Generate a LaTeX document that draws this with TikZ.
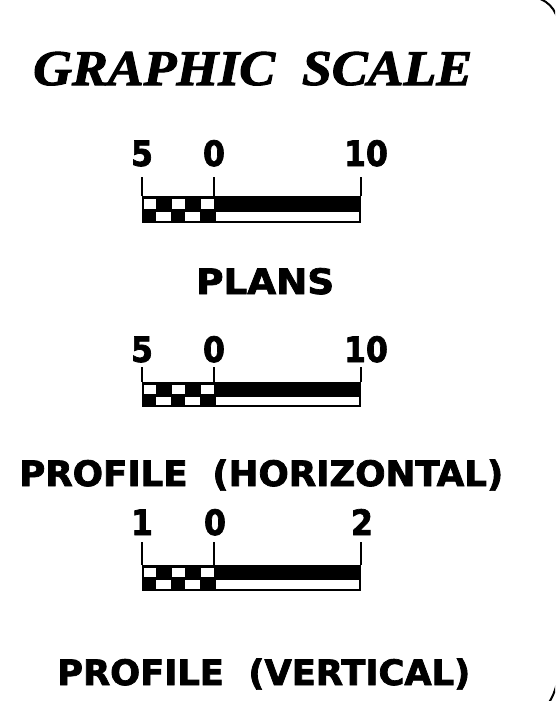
\documentclass[tikz,border=0pt]{standalone}
\usepackage{fontspec}
\setmainfont{Liberation Serif}[BoldItalicFeatures={FakeBold=2}]
\newfontfamily\labfont{DejaVu Sans Condensed}[BoldFeatures={FakeBold=2}]
\usepackage{graphicx}
\newcommand\scbar[4]{% #1 bar top, #2 bar middle, #3 bar bottom, #4 tick top
  \fill[black] (142,#1) rectangle (361,#3);
  \foreach \i in {0,2,4}{\fill[white] (142+\i*14.4+1.5,#1+2.5) rectangle (142+\i*14.4+14.4-0.5,#2-1);}
  \foreach \i in {1,3}{\fill[white] (142+\i*14.4,#2+1.5) rectangle (142+\i*14.4+14.4,#3-2);}
  \fill[white] (215.5,#2+1.5) rectangle (359,#3-2);
  \draw[tickline] (142,#4) -- (142,#1);
  \draw[tickline] (214,#4) -- (214,#1);
  \draw[tickline] (361,#4) -- (361,#1);
}
\begin{document}
\begin{tikzpicture}[x=1pt,y=-1pt,
  title/.style={anchor=base west,inner sep=0,font=\fontsize{50}{50}\selectfont\bfseries\itshape},
  lab/.style={anchor=base west,inner sep=0,font=\labfont\fontsize{35}{35}\selectfont\bfseries},
  num/.style={anchor=base,inner sep=0,font=\labfont\fontsize{35}{35}\selectfont\bfseries},
  tickline/.style={line width=2.4pt},
  frame/.style={line width=2pt}]
\useasboundingbox (0,0) rectangle (555,701);
\clip (0,0) rectangle (555,701);
\draw[frame] (-100,-3) -- (530,-3) arc[start angle=-90,end angle=0,radius=28]
  -- (558,671.5) arc[start angle=0,end angle=90,radius=58] -- (-100,729.5);
\node[title] (t) at (33,85) {\resizebox{439pt}{\height}{GRAPHIC\ \ SCALE}};
% plans
\node[num] (a5) at (142,166) {5};
\node[num] (a0) at (214,166) {0};
\node[num] (a10) at (366,166) {10};
\scbar{196}{210}{223}{177}
\node[lab] (plans) at (196,294) {\resizebox{138pt}{\height}{PLANS}};
% profile horizontal
\node[num] (b5) at (142,362) {5};
\node[num] (b0) at (214,362) {0};
\node[num] (b10) at (366,362) {10};
\scbar{382}{395}{407}{367}
\node[lab] (ph) at (19,486) {\resizebox{484pt}{\height}{PROFILE\ \ (HORIZONTAL)}};
% profile vertical
\node[num] (c1) at (142,535) {1};
\node[num] (c0) at (215,535) {0};
\node[num] (c2) at (362,535) {2};
\scbar{565}{578}{591}{542}
\node[lab] (pv) at (57,685) {\resizebox{413pt}{\height}{PROFILE\ \ (VERTICAL)}};
\end{tikzpicture}
\end{document}
